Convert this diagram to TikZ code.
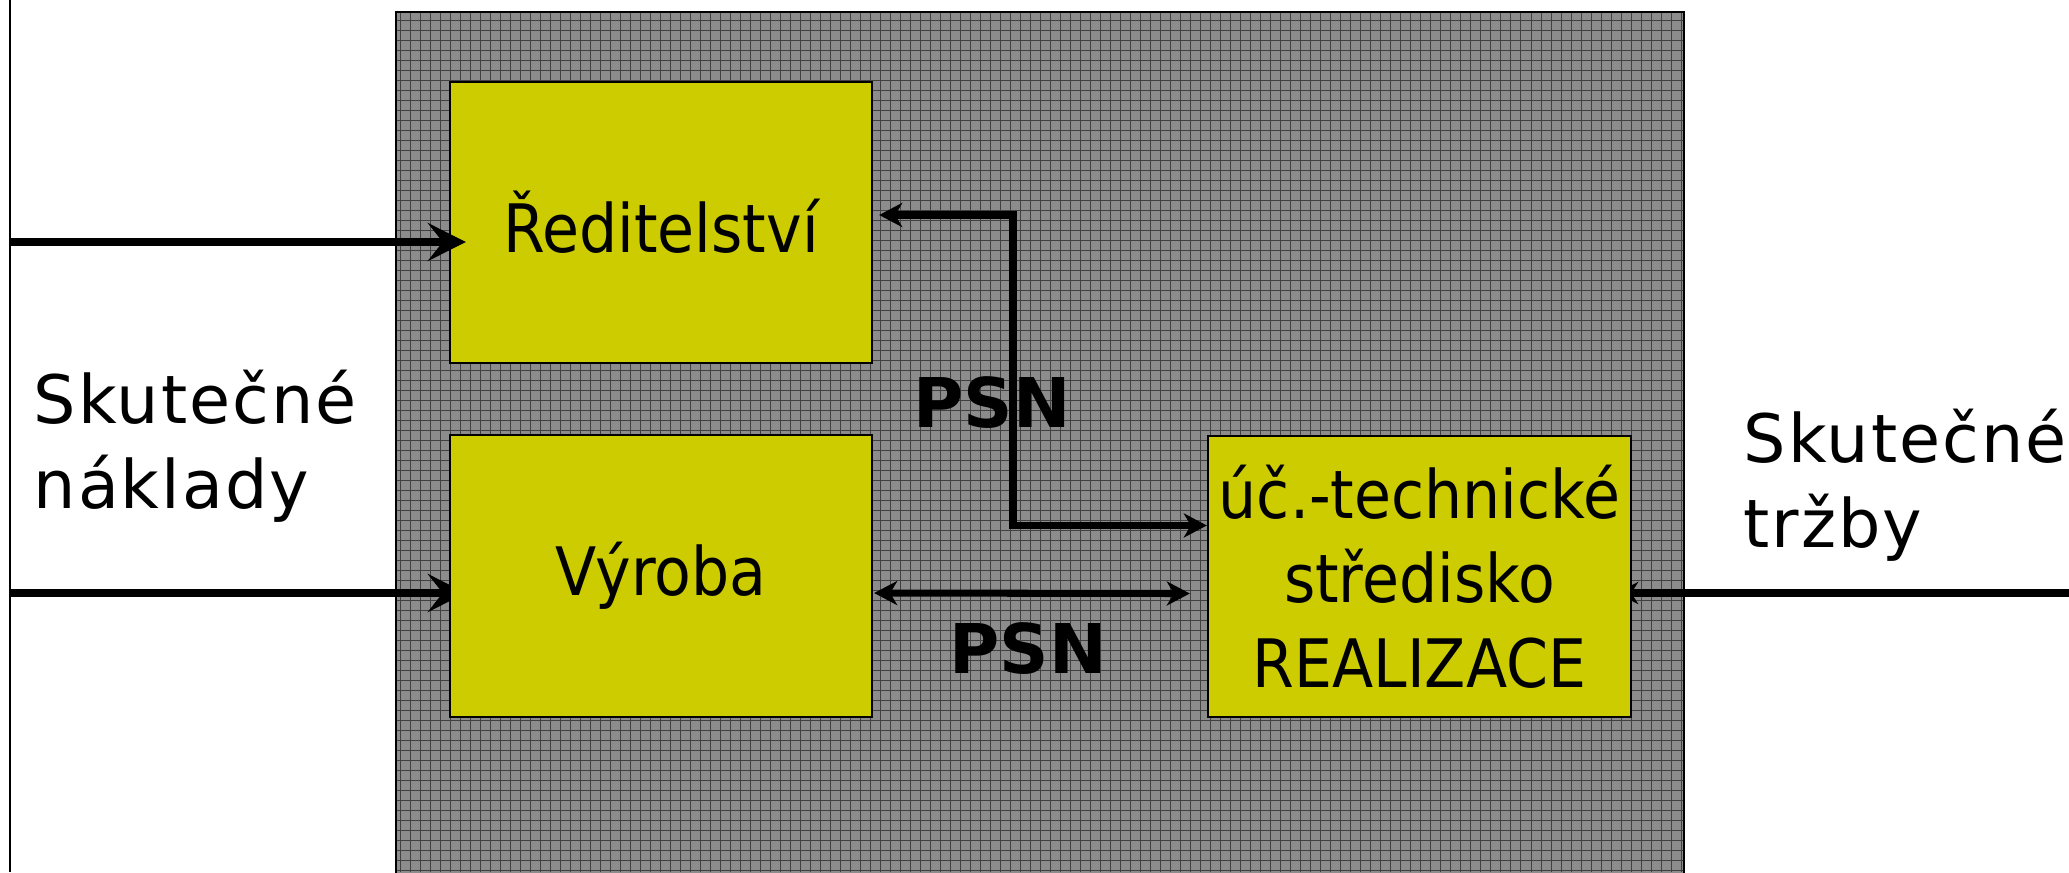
\documentclass[tikz,border=0pt]{standalone}
\usepackage{fontspec}
\setmainfont{DejaVu Sans}
\newfontfamily\narrowfont[FakeStretch=0.9]{DejaVu Sans}
\newfontfamily\widefont[LetterSpace=3]{DejaVu Sans}
\usetikzlibrary{arrows.meta}
\definecolor{boxyellow}{RGB}{204,204,0}
\definecolor{panelgray}{RGB}{140,140,140}
\pgfdeclarelayer{panel}
\pgfdeclarelayer{under}
\pgfsetlayers{panel,under,main}

\begin{document}
\begin{tikzpicture}[x=0.01cm,y=-0.01cm,>={Stealth[length=0.23cm,width=0.24cm,inset=0.07cm]},
  box node/.style={rectangle,draw=black,line width=0.6pt,fill=boxyellow,minimum width=4.22cm,minimum height=2.81cm,inner sep=0pt,align=center,font=\narrowfont\fontsize{19}{24.1}\selectfont},
  side label/.style={anchor=base west,align=left,inner sep=0pt,font=\widefont\fontsize{19}{24.1}\selectfont},
  psn label/.style={inner sep=0pt,font=\bfseries\fontsize{19.5}{24}\selectfont},
  big arrow/.style={-{Stealth[length=0.38cm,width=0.38cm,inset=0.15cm]},line width=2.3pt},
  small arrow/.style={-{Stealth[length=0.22cm,width=0.22cm,inset=0.07cm]},line width=2.3pt},
  flow/.style={line width=2pt}]
  \useasboundingbox (0,0) rectangle (2069,872);

  % grey panel with the grid
  \begin{pgfonlayer}{panel}
    \fill[panelgray] (396,12) rectangle (1684,880);
    \begin{scope}
      \clip (396,12) rectangle (1684,872);
      \draw[black!75,line width=0.28pt,step=0.1cm] (396,12) grid (1684,872);
    \end{scope}
    \draw[line width=0.8pt] (396,12) rectangle (1684,880);
  \end{pgfonlayer}

  \draw[line width=0.8pt] (10,0) -- (10,872);

  \node[box node] (redit) at (661,222.5) {Ředitelství};
  \node[box node] (vyroba) at (661,576) {Výroba};
  \node[box node,minimum width=4.23cm] (real) at (1419.5,576.5) {úč.-technické\\středisko\\REALIZACE};

  % base = baseline of the last line
  \node[side label] (naklady) at (33,508) {Skutečné\\náklady};
  \node[side label] (trzby) at (1743,547) {Skutečné\\tržby};

  \node[psn label] (psn1) at (992,403) {PSN};
  \node[psn label] (psn2) at (1028,649) {PSN};

  \coordinate (lt) at (10,242);
  \coordinate (lb) at (10,593);
  \coordinate (rb) at (2069,593);

  \draw[big arrow] (lt) -- ([xshift=0.17cm]lt -| redit.west);
  \begin{pgfonlayer}{under}
    \draw[big arrow] (lb) -- ([xshift=0.17cm]lb -| vyroba.west);
    \draw[small arrow] (rb) -- ([xshift=-0.16cm]rb -| real.east);
  \end{pgfonlayer}

  \draw[flow,<->] ([xshift=0.06cm,yshift=0.075cm]redit.east) -| (1013,372) |- ([yshift=0.51cm]real.west);
  \draw[flow,<->] ([xshift=0.01cm,yshift=-0.17cm]vyroba.east) -- ([xshift=-0.17cm,yshift=-0.17cm]real.west);
\end{tikzpicture}
\end{document}
